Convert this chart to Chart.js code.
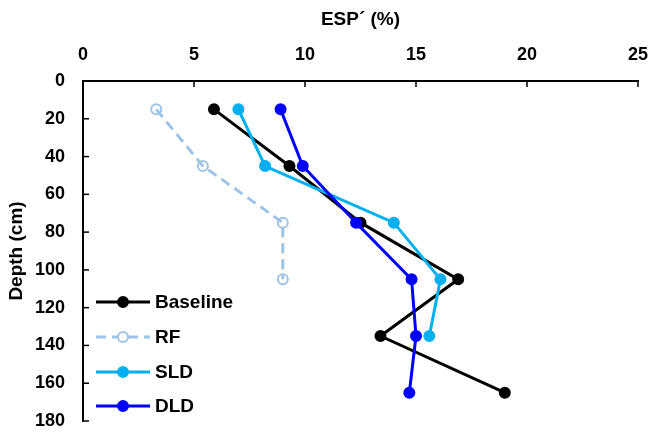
<!DOCTYPE html>
<html>
<head>
<meta charset="utf-8">
<script src="https://cdn.jsdelivr.net/npm/chart.js@4"></script>
<style>
  body { margin:0; background:#fff; }
  #wrap { position:relative; width:649px; height:436px; }
  #legend { position:absolute; left:96px; top:285px; font-family:"Liberation Sans", Arial, sans-serif; font-weight:bold; font-size:19px; color:#000; }
  #legend div { display:flex; align-items:center; height:34.7px; }
  #legend svg { margin-right:3px; }
</style>
</head>
<body>
<div id="wrap">
  <canvas id="chart" width="649" height="436"></canvas>
  <div id="legend"></div>
</div>
<script>
const depths = [15, 45, 75, 105, 135, 165];
const baseline = [5.9, 9.3, 12.5, 16.9, 13.4, 19.0];
const rf = [3.3, 5.4, 9.0, 9.0];
const sld = [7.0, 8.2, 14.0, 16.1, 15.6];
const dld = [8.9, 9.9, 12.3, 14.8, 15.0, 14.7];
const xTicks = [0, 5, 10, 15, 20, 25];
const yTicks = [0, 20, 40, 60, 80, 100, 120, 140, 160, 180];

const series = [
  {label:'Baseline', values:baseline, color:'#000000', dash:[], fill:'#000000', order:4},
  {label:'RF', values:rf, color:'#9DC3E6', dash:[10,6], fill:'rgba(255,255,255,0)', order:3},
  {label:'SLD', values:sld, color:'#00B0F0', dash:[], fill:'#00B0F0', order:2},
  {label:'DLD', values:dld, color:'#0000FF', dash:[], fill:'#0000FF', order:1}
];

const datasets = series.map(s=>({
  label:s.label,
  data:s.values.map((v,i)=>({x:v, y:depths[i]})),
  showLine:true,
  borderColor:s.color,
  borderWidth:3,
  borderDash:s.dash,
  pointRadius:5,
  pointBorderWidth:2,
  pointBorderColor:s.color,
  pointBackgroundColor:s.fill,
  order:s.order
}));

// inward tick marks like the original
const innerTicks = {
  id:'innerTicks',
  afterDraw(chart){
    const {ctx, chartArea, scales} = chart;
    ctx.save();
    ctx.strokeStyle = '#000';
    ctx.lineWidth = 1.5;
    xTicks.forEach(v=>{
      const px = scales.x.getPixelForValue(v);
      ctx.beginPath(); ctx.moveTo(px, chartArea.top); ctx.lineTo(px, chartArea.top+6); ctx.stroke();
    });
    yTicks.forEach(v=>{
      const py = scales.y.getPixelForValue(v);
      ctx.beginPath(); ctx.moveTo(chartArea.left, py); ctx.lineTo(chartArea.left+6, py); ctx.stroke();
    });
    ctx.restore();
  }
};

const tickFont = {family:'"Liberation Sans", Arial, sans-serif', size:18, weight:'bold'};
const titleFont = {family:'"Liberation Sans", Arial, sans-serif', size:19, weight:'bold'};

new Chart(document.getElementById('chart'), {
  type:'scatter',
  data:{datasets},
  plugins:[innerTicks],
  options:{
    responsive:false,
    animation:false,
    layout:{padding:{left:0, top:0, right:11, bottom:15}},
    plugins:{legend:{display:false}, tooltip:{enabled:false}},
    scales:{
      x:{
        position:'top', min:0, max:25,
        afterBuildTicks(s){ s.ticks = xTicks.map(v=>({value:v})); },
        afterFit(s){ s.height = 81; s.paddingLeft = 0; s.paddingRight = 0; },
        ticks:{color:'#000', font:tickFont, padding:15, maxRotation:0},
        grid:{display:true, drawOnChartArea:false, drawTicks:false},
        border:{display:true, color:'#000', width:2},
        title:{display:true, text:'ESP´ (%)', color:'#000', font:titleFont, padding:{top:8, bottom:0}}
      },
      y:{
        reverse:true, min:0, max:180,
        afterBuildTicks(s){ s.ticks = yTicks.map(v=>({value:v})); },
        afterFit(s){ s.width = 83; s.paddingTop = 0; s.paddingBottom = 0; },
        ticks:{color:'#000', font:tickFont, padding:18},
        grid:{display:true, drawOnChartArea:false, drawTicks:false},
        border:{display:true, color:'#000', width:2},
        title:{display:true, text:'Depth (cm)', color:'#000', font:titleFont, padding:{top:5, bottom:0}}
      }
    }
  }
});

const legend = document.getElementById('legend');
series.forEach(s=>{
  const row = document.createElement('div');
  const dash = s.dash.length ? `stroke-dasharray="${s.dash.join(',')}"` : '';
  row.innerHTML = `<svg width="56" height="14"><line x1="0" y1="7" x2="54" y2="7" stroke="${s.color}" stroke-width="3" ${dash}/><circle cx="27" cy="7" r="5" stroke="${s.color}" stroke-width="2" fill="${s.fill==='rgba(255,255,255,0)'?'#fff':s.fill}"/></svg><span>${s.label}</span>`;
  legend.appendChild(row);
});
</script>
</body>
</html>
